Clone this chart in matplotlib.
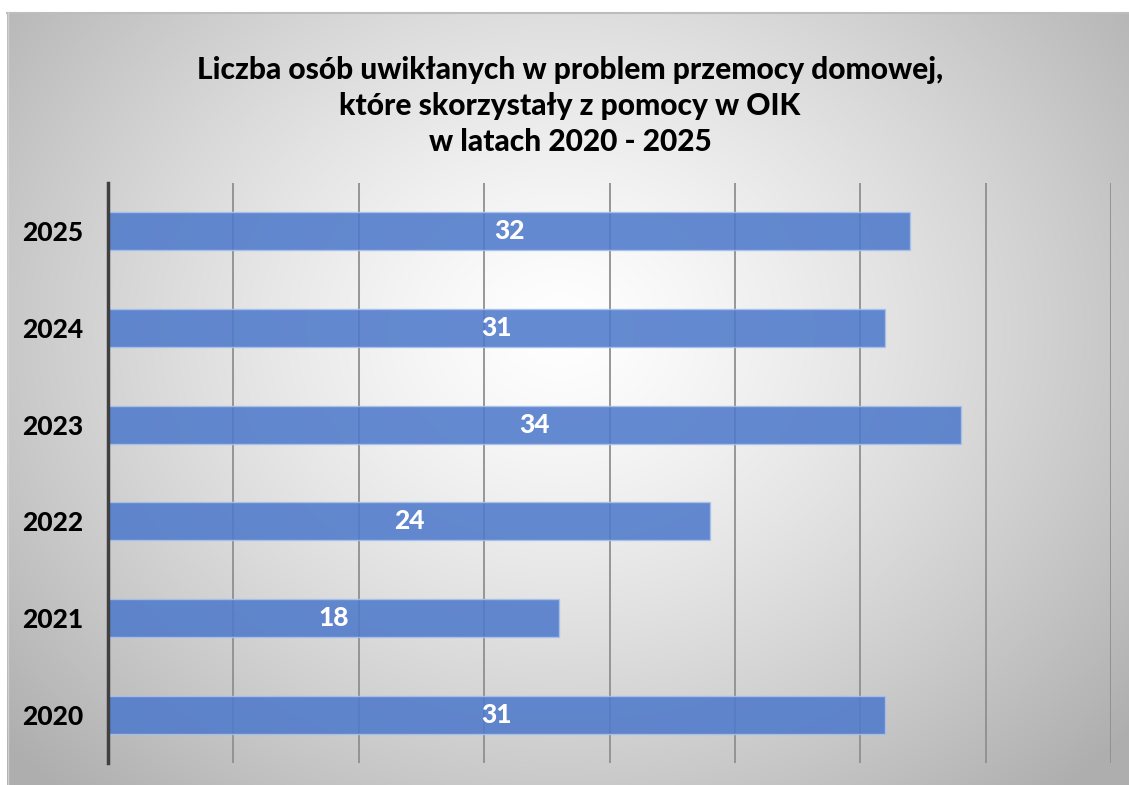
import numpy as np
import matplotlib.pyplot as plt

lata = ['2020', '2021', '2022', '2023', '2024', '2025']
osoby = [31, 18, 24, 34, 31, 32]
tytul = 'Liczba osób uwikłanych w problem przemocy domowej,\nktóre skorzystały z pomocy w OIK\nw latach 2020 - 2025'

plt.rcParams['font.family'] = ['Lato', 'DejaVu Sans']

fig = plt.figure(figsize=(11.29, 7.85), dpi=100)

# tlo z gradientem promieniowym
bg = fig.add_axes([0, 0, 1, 1])
bg.set_xlim(0, 1129)
bg.set_ylim(785, 0)
bg.axis('off')
yy, xx = np.mgrid[0:785, 0:1129]
r = np.sqrt(((xx - 560) / 620.0) ** 2 + ((yy - 330) / 520.0) ** 2)
val = 1.0 - 0.25 * np.clip(r, 0, 1.2) ** 1.3
img = np.dstack([val, val, val])
img[:12, :, :] = 1.0
img[:, :7, :] = 1.0
bg.imshow(img, extent=(0, 1129, 785, 0), aspect='auto', interpolation='bilinear')
bg.plot([7, 1129], [12.5, 12.5], color='#bdbdbd', lw=1.5)
bg.plot([7.5, 7.5], [12, 785], color='#d0d0d0', lw=1)

bg.text(570, 106, tytul, ha='center', va='center', fontsize=21.5, fontweight='black',
        linespacing=1.36, color='black')

ax = fig.add_axes([108 / 1129, 22 / 785, 1003 / 1129, 580 / 785])
ax.patch.set_alpha(0)
y = np.arange(len(lata))
bars = ax.barh(y, osoby, height=0.39, color='#4f7acb', alpha=0.88,
               edgecolor='#a9c1ec', linewidth=1, zorder=3)
ax.set_xlim(0, 40)
ax.set_ylim(-0.5, len(lata) - 0.5)
ax.set_xticks(np.arange(0, 41, 5))
ax.xaxis.grid(True, color='#8f8f8f', lw=1.3, zorder=1)
ax.set_axisbelow(True)
ax.tick_params(axis='x', length=0, labelbottom=False)
ax.tick_params(axis='y', length=0, pad=18)
ax.set_yticks(y)
ax.set_yticklabels(lata, fontsize=19, fontweight='black')
for s in ['top', 'right', 'bottom']:
    ax.spines[s].set_visible(False)
ax.spines['left'].set_color('#404040')
ax.spines['left'].set_linewidth(2.5)
ax.spines['left'].set_zorder(4)

for b, v in zip(bars, osoby):
    ax.text(v / 2, b.get_y() + b.get_height() / 2, str(v), ha='center', va='center',
            color='white', fontsize=19, fontweight='black', zorder=5)

fig.savefig('out.png', dpi=100)
